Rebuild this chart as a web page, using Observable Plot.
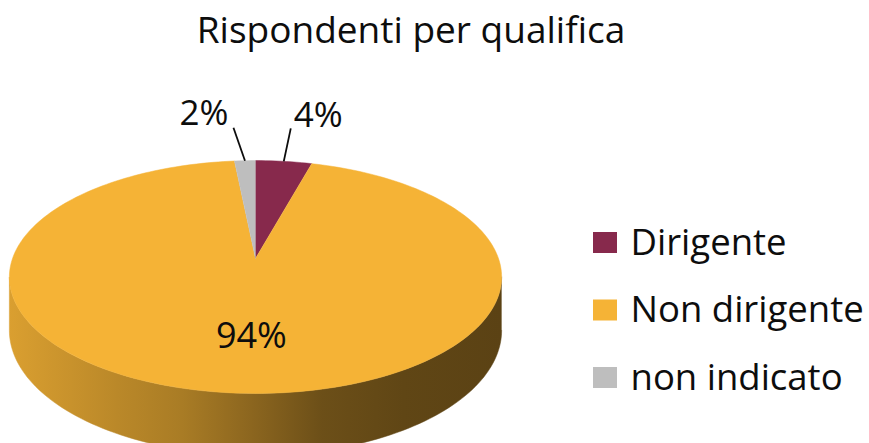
<!DOCTYPE html>
<html>
<head>
<meta charset="utf-8">
<script src="https://cdn.jsdelivr.net/npm/d3@7"></script>
<script src="https://cdn.jsdelivr.net/npm/@observablehq/plot@0.6"></script>
<style>
  body { margin: 0; background: #fff; }
  #chart { position: relative; width: 869px; height: 443px; overflow: hidden; background: #fff; }
</style>
</head>
<body>
<div id="chart"></div>
<script>
// ---- data ----
const title = "Rispondenti per qualifica";
const categories = ["Dirigente", "Non dirigente", "non indicato"];
const values = [4.3, 94.1, 1.6];
const colors = ["#87294c", "#f5b336", "#bebebe"];

// ---- layout ----
const W = 869, H = 443;
const font = "Open Sans";
const cx = 255, cy = 258;      // apex of the pie on screen
const A = 243, B = 113.5;      // horizontal / depth radii
const k = 0.159;               // perspective strength
const depth = 52;              // thickness of the disc, px
const labelOffsets = {         // leader line offsets for outside labels (px)
  "Dirigente": {dx: 7, dy: -33, anchor: "start", tdx: 3, tdy: -1},
  "non indicato": {dx: -11.5, dy: -33, anchor: "end", tdx: -5, tdy: -3}
};
const shade = [[0, .89], [.22, .76], [.35, .69], [.49, .57], [.635, .44], [.8, .39], [1, .37]];

const rows = categories.map((c, i) => ({key: c, value: values[i], color: colors[i]}));
const total = d3.sum(values);
const arcs = d3.pie().sort(null).value(d => d.value)(rows);

// perspective projection of a point on the disc (theta clockwise from 12 o'clock)
function proj(theta, r = 1, drop = 0) {
  const u = r * Math.sin(theta), v = -r * Math.cos(theta);
  const s = 1 / (1 - k * v);
  return {x: u * s, y: (v + drop / B) * s};
}
const N = 240;
function arcPoints(a0, a1, r = 1, drop = 0) {
  const n = Math.max(2, Math.ceil(N * (a1 - a0) / (2 * Math.PI)));
  return d3.range(n + 1).map(i => proj(a0 + (a1 - a0) * i / n, r, drop));
}

// top face polygons
const topPts = arcs.flatMap(a => [
  {key: a.data.key, ...proj(0, 0)},
  ...arcPoints(a.startAngle, a.endAngle).map(p => ({key: a.data.key, ...p}))
]);

// visible side (front half, between silhouette angles)
const thR = Math.PI / 2 + Math.asin(k), thL = 3 * Math.PI / 2 - Math.asin(k);
const sideMarks = [];
arcs.forEach((a, i) => {
  const a0 = Math.max(a.startAngle, thR), a1 = Math.min(a.endAngle, thL);
  if (a1 <= a0) return;
  const pts = [...arcPoints(a0, a1), ...arcPoints(a0, a1, 1, depth).reverse()];
  sideMarks.push(Plot.line(pts, {x: "x", y: "y", fill: `url(#side-grad-${i})`, stroke: `url(#side-grad-${i})`, strokeWidth: 0.5}));
});

// labels
const inside = [], outside = [];
arcs.forEach(a => {
  const pct = Math.round(a.data.value / total * 100) + "%";
  const mid = (a.startAngle + a.endAngle) / 2;
  const off = labelOffsets[a.data.key];
  if (!off) {
    const p = proj(mid, 0.62);
    inside.push({label: pct, ...p});
  } else {
    const p = proj(mid, 1);
    outside.push({label: pct, x1: p.x, y1: p.y, x2: p.x + off.dx / A, y2: p.y + off.dy / B, ...off});
  }
});

const legendMarks = categories.flatMap((c, i) => [
  Plot.rect([c], {insetLeft: 593, insetRight: W - 617, insetTop: 232 + i * 67.5, insetBottom: H - 253 - i * 67.5, fill: colors[i]}),
  Plot.text([c], {frameAnchor: "top-left", dx: 630, dy: 254 + i * 67.5, text: d => d, lineAnchor: "bottom", textAnchor: "start", fontSize: 36.5, fill: "#0d0d0d"})
]);

const plot = Plot.plot({
  width: W, height: H,
  margin: 0,
  style: {fontFamily: font, background: "white"},
  x: {domain: [-1, 1], range: [cx - A, cx + A], axis: null},
  y: {domain: [-1, 1], range: [cy - B, cy + B], axis: null},
  color: {domain: categories, range: colors},
  marks: [
    ...sideMarks,
    Plot.line(topPts, {x: "x", y: "y", z: "key", fill: "key", stroke: "key", strokeWidth: 0.5}),
    Plot.text(inside, {x: "x", y: "y", text: "label", dx: 10, fontSize: 36, fill: "#0d0d0d"}),
    Plot.link(outside, {x1: "x1", y1: "y1", x2: "x2", y2: "y2", stroke: "#0d0d0d", strokeWidth: 1.8}),
    ...outside.map(o => Plot.text([o], {x: "x2", y: "y2", text: "label", dx: o.tdx, dy: o.tdy, textAnchor: o.anchor, lineAnchor: "bottom", fontSize: 35, fill: "#0d0d0d"})),
    Plot.text([title], {frameAnchor: "top-left", dx: 410.5, dy: 42, text: d => d, textAnchor: "middle", lineAnchor: "bottom", fontSize: 37, fill: "#0d0d0d"}),
    ...legendMarks
  ]
});

// side gradients (light left -> dark right)
const sx = plot.scale("x");
const xl = sx.apply(-1 / Math.sqrt(1 - k * k)), xr = sx.apply(1 / Math.sqrt(1 - k * k));
const svg = d3.select(plot);
const defs = svg.insert("defs", ":first-child");
rows.forEach((r, i) => {
  const c = d3.rgb(r.color);
  const g = defs.append("linearGradient").attr("id", `side-grad-${i}`)
    .attr("gradientUnits", "userSpaceOnUse")
    .attr("x1", xl).attr("x2", xr).attr("y1", 0).attr("y2", 0);
  shade.forEach(([o, f]) => g.append("stop").attr("offset", o)
    .attr("stop-color", d3.rgb(c.r * f, c.g * f, c.b * f).formatHex()));
});

document.getElementById("chart").appendChild(plot);
</script>
</body>
</html>
